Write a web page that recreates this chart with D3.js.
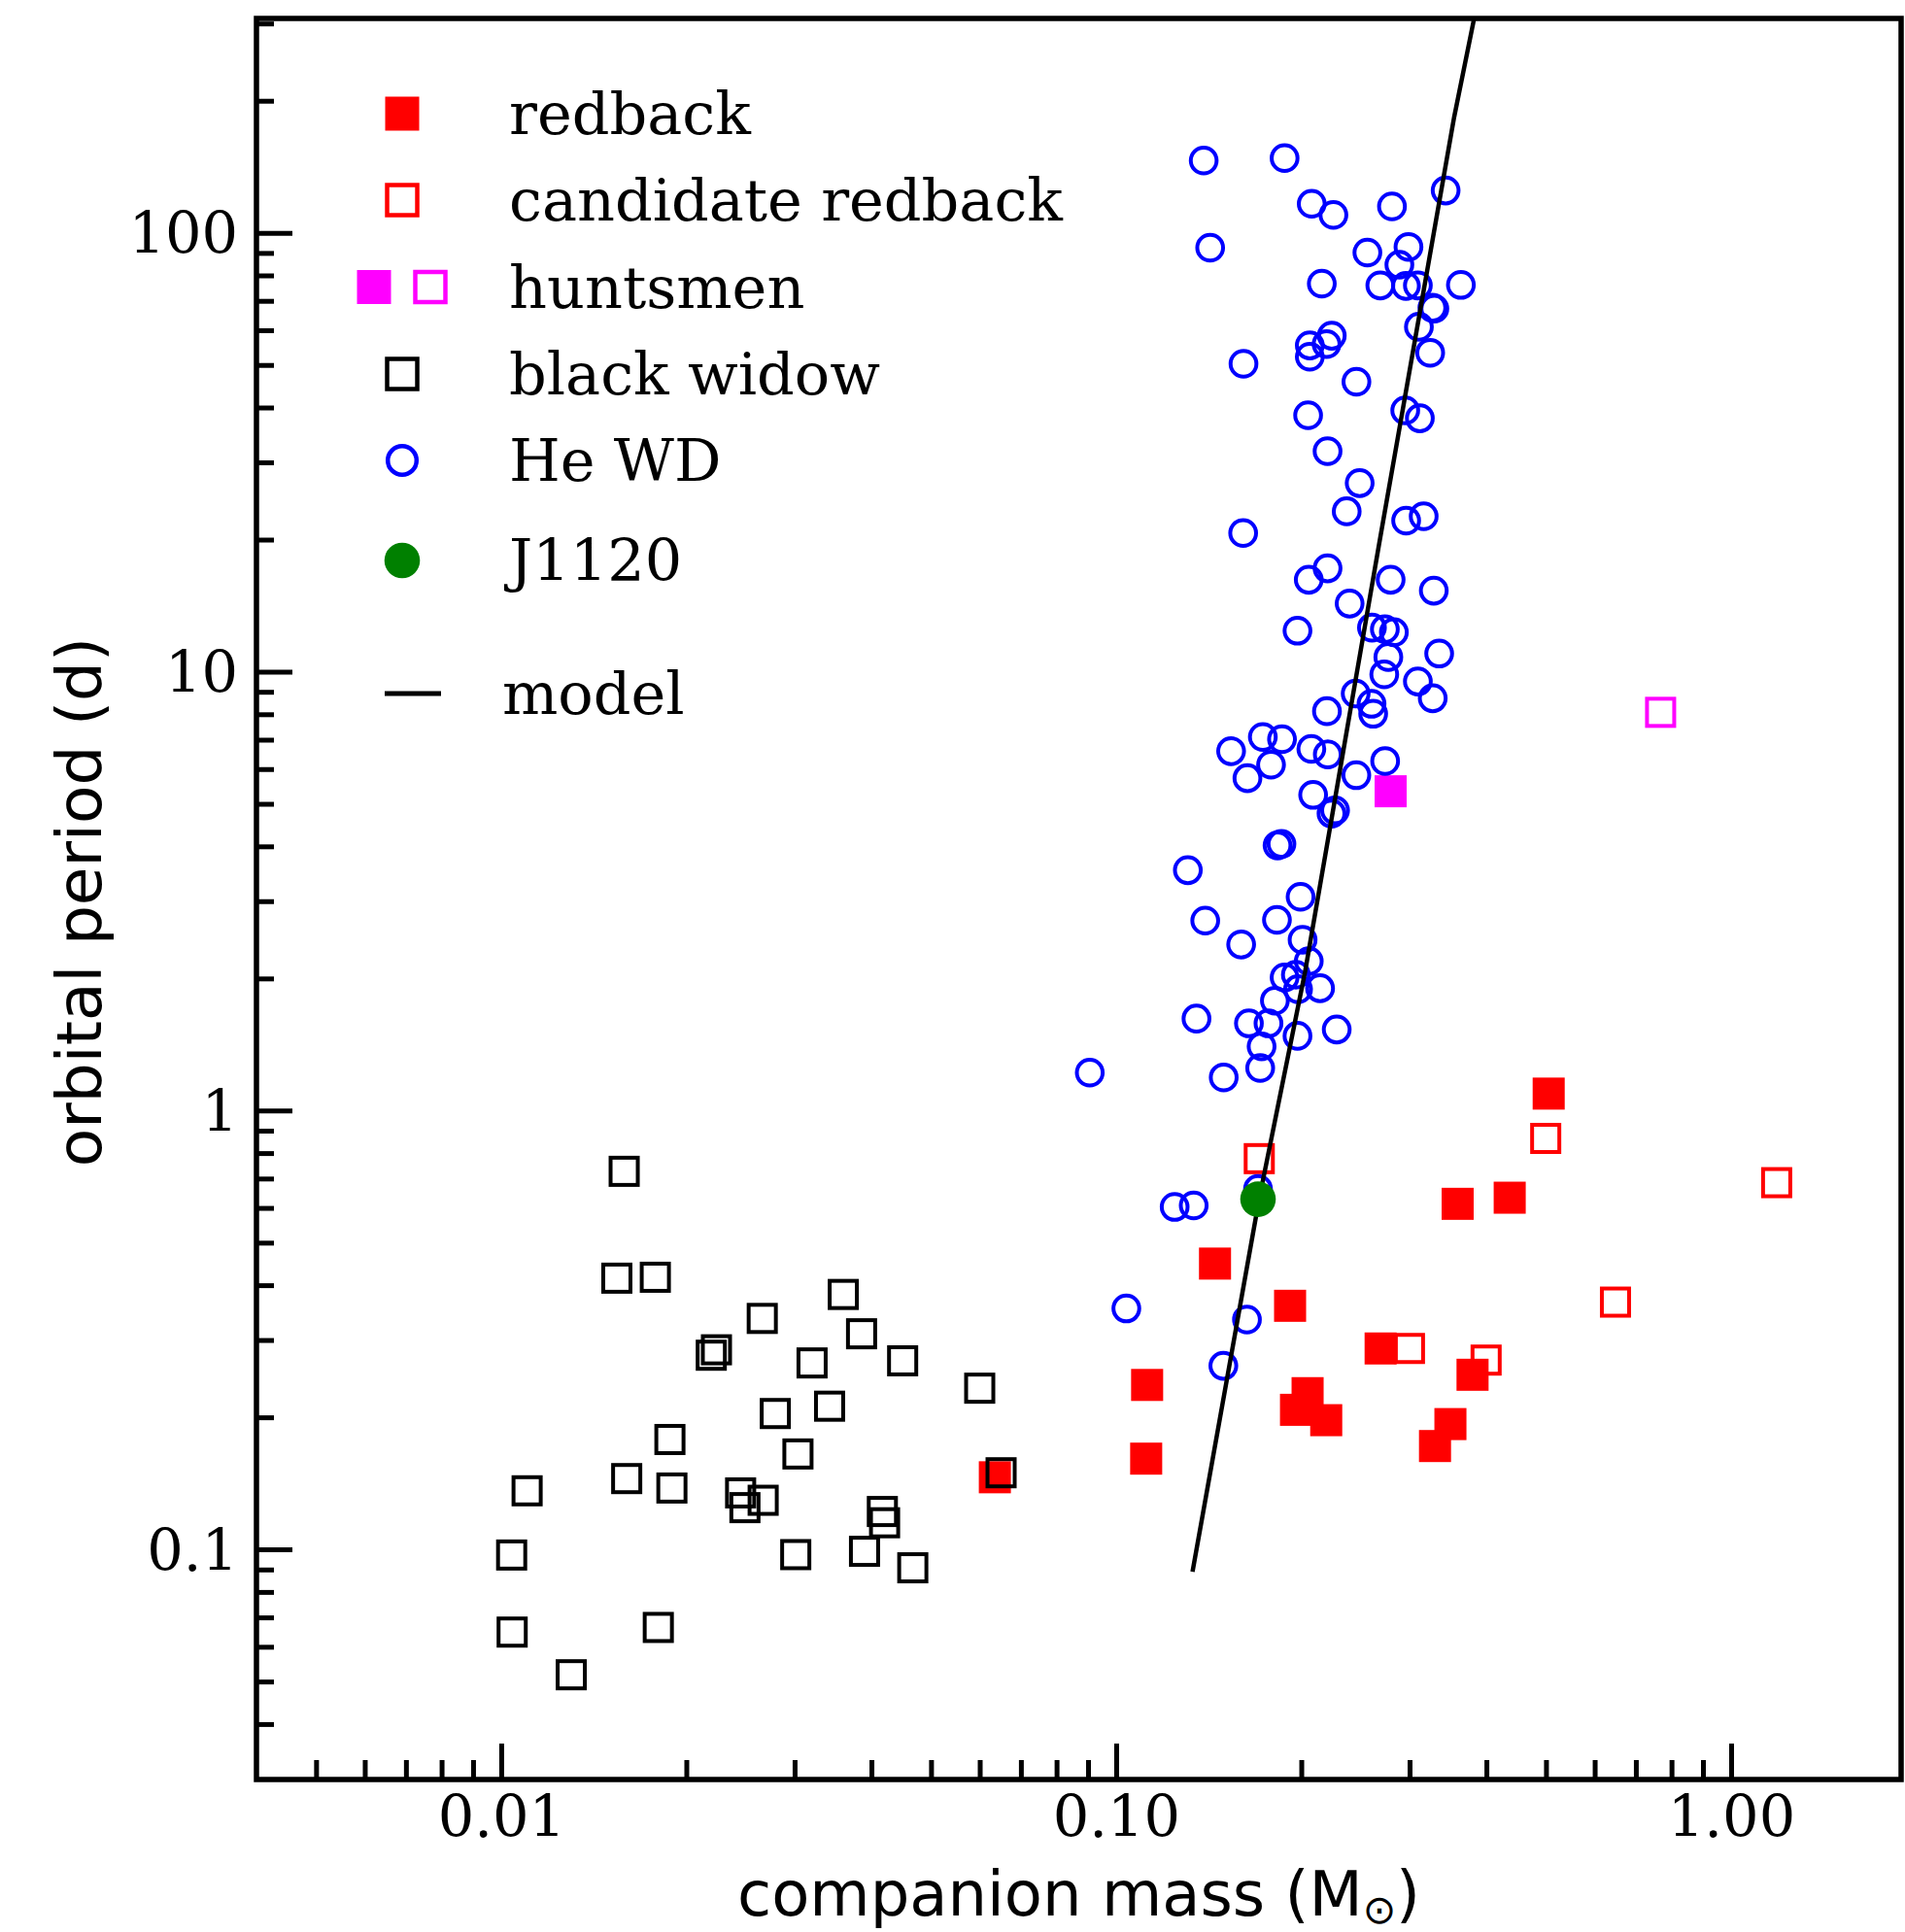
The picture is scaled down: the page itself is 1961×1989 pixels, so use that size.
<!DOCTYPE html>
<html><head><meta charset="utf-8">
<script src="https://cdn.jsdelivr.net/npm/d3@7"></script>
<style>body{margin:0;background:#fff}svg{display:block}</style>
</head><body><svg id="c" width="1961" height="1989"></svg>
<script>
// ---------------- data (companion mass [Msun], orbital period [d]) ----------------
const redback = [[0.3592,0.613],[0.4365,0.633],[0.1448,0.448],[0.1918,0.359],[0.2692,0.287],[0.3798,0.250],[0.1123,0.237],[0.2048,0.227],[0.1961,0.208],[0.2196,0.197],[0.3496,0.193],[0.3300,0.172],[0.1119,0.161],[0.5051,1.093],[0.0635,0.146]];
const candidateRedback = [[0.1709,0.777],[0.4995,0.864],[1.186,0.685],[0.6486,0.366],[0.2999,0.287],[0.3996,0.270]];
const huntsmenFilled = [[0.2795,5.34]];
const huntsmenOpen = [[0.768,8.08]];
const blackWidow = [[0.01585,0.727],[0.01542,0.415],[0.01781,0.417],[0.0360,0.381],[0.02658,0.336],[0.03855,0.310],[0.02239,0.285],[0.02196,0.277],[0.03203,0.266],[0.04496,0.269],[0.0600,0.233],[0.02791,0.204],[0.03420,0.212],[0.01881,0.178],[0.03038,0.165],[0.01102,0.136],[0.01600,0.145],[0.01895,0.138],[0.02451,0.1345],[0.02491,0.1245],[0.02667,0.1294],[0.04167,0.122],[0.04202,0.115],[0.0104,0.0971],[0.03013,0.0973],[0.03898,0.0990],[0.04670,0.0908],[0.01042,0.0648],[0.01801,0.0664],[0.01300,0.0518],[0.0650,0.1495]];
const heWD = [[0.1388,146.2],[0.1879,148.0],[0.2080,116.5],[0.2256,109.9],[0.2809,114.9],[0.3434,124.9],[0.1422,92.5],[0.2562,90.2],[0.2988,92.9],[0.2888,84.6],[0.2160,76.6],[0.2689,75.9],[0.2960,75.7],[0.3095,75.9],[0.3636,76.1],[0.3268,67.5],[0.3292,67.2],[0.3107,61.1],[0.3241,53.3],[0.2242,58.3],[0.2199,55.8],[0.2065,55.4],[0.2065,52.2],[0.1611,50.3],[0.2459,45.8],[0.2052,38.4],[0.2952,39.4],[0.3118,37.8],[0.2207,31.8],[0.2489,26.9],[0.2371,23.2],[0.2962,22.1],[0.3163,22.6],[0.1609,20.7],
[0.2207,17.2],[0.2057,16.2],[0.2795,16.2],[0.3285,15.3],[0.2397,14.3],[0.1972,12.4],[0.2606,12.6],[0.2735,12.5],[0.2829,12.3],[0.2771,10.8],[0.3352,11.0],[0.2729,9.86],[0.3095,9.50],[0.3272,8.70],[0.2452,8.92],[0.2602,8.45],[0.2618,8.02],[0.2202,8.13],[0.1732,7.10],[0.1861,7.02],[0.1538,6.59],[0.2077,6.67],[0.2209,6.48],[0.1786,6.14],[0.2738,6.26],[0.1635,5.72],[0.2458,5.81],[0.2091,5.24],[0.2240,4.75],[0.2270,4.83],[0.1830,4.02],[0.1857,4.05],[0.1308,3.53],[0.1995,3.07],[0.1396,2.71],[0.1826,2.72],[0.1597,2.39],[0.2010,2.45],[0.2057,2.19],[0.1879,2.01],[0.1960,2.04],[0.2146,1.90],
[0.1976,1.89],[0.1812,1.78],[0.1351,1.62],[0.1644,1.58],[0.1769,1.58],[0.2284,1.53],[0.1972,1.48],[0.1724,1.40],[0.1715,1.25],[0.1496,1.19],[0.0906,1.22],[0.1701,0.663],[0.1245,0.603],[0.1337,0.608],[0.1039,0.354],[0.1632,0.334],[0.1494,0.262]];
const j1120 = [[0.1701,0.628]];
const model = [[0.1331,0.0889],[0.1708,0.628],[0.2029,2.072],[0.2676,19.49],[0.3545,183.4],[0.3818,306.7],[0.391,360]];

const xMajorTicks = [0.01,0.1,1];
const xTickLabels = ["0.01","0.10","1.00"];
const xMinorTicks = [0.005,0.006,0.007,0.008,0.009,0.02,0.03,0.04,0.05,0.06,0.07,0.08,0.09,0.2,0.3,0.4,0.5,0.6,0.7,0.8,0.9];
const yMajorTicks = [0.1,1,10,100];
const yTickLabels = ["0.1","1","10","100"];
const yMinorTicks = [0.04,0.05,0.06,0.07,0.08,0.09,0.2,0.3,0.4,0.5,0.6,0.7,0.8,0.9,2,3,4,5,6,7,8,9,20,30,40,50,60,70,80,90,200,300];

const legendLabels = ["redback","candidate redback","huntsmen","black widow","He WD","J1120","model"];

// ---------------- layout ----------------
const L = 264, R = 1957, T = 19, B = 1832;
const svg = d3.select("#c");
svg.append("rect").attr("width",1961).attr("height",1989).attr("fill","#fff");
const x = d3.scaleLog().domain([0.004,1.89]).range([L,R]);
const y = d3.scaleLog().domain([0.0299,308]).range([B,T]);

svg.append("defs").append("clipPath").attr("id","clip")
  .append("rect").attr("x",L).attr("y",T).attr("width",R-L).attr("height",B-T);

const serif = "DejaVu Serif";
const sans = "DejaVu Sans";

// axes
function styleAxis(g){
  g.select(".domain").remove();
  g.selectAll(".tick line").attr("stroke","#000").attr("stroke-width",5);
}
svg.append("g").attr("transform",`translate(0,${B})`)
  .call(d3.axisBottom(x).tickValues(xMinorTicks).tickSize(-20).tickFormat(""))
  .call(styleAxis);
const xa = svg.append("g").attr("transform",`translate(0,${B})`)
  .call(d3.axisBottom(x).tickValues(xMajorTicks).tickSize(-37).tickPadding(17).tickFormat((d,i)=>xTickLabels[i]))
  .call(styleAxis);
xa.selectAll("text").attr("font-family",serif).attr("font-size",59).attr("fill","#000");

svg.append("g").attr("transform",`translate(${L},0)`)
  .call(d3.axisLeft(y).tickValues(yMinorTicks).tickSize(-18).tickFormat(""))
  .call(styleAxis);
const ya = svg.append("g").attr("transform",`translate(${L},0)`)
  .call(d3.axisLeft(y).tickValues(yMajorTicks).tickSize(-37).tickPadding(19).tickFormat((d,i)=>yTickLabels[i]))
  .call(styleAxis);
ya.selectAll("text").attr("font-family",serif).attr("font-size",59).attr("fill","#000").attr("dy","0.36em");

// data
const plot = svg.append("g").attr("clip-path","url(#clip)");
const SQ = 33, OS = 28, OSW = 4, CR = 13.3, CSW = 4;
function filledSquares(data,color){
  plot.append("g").selectAll("rect").data(data).join("rect")
    .attr("x",d=>x(d[0])-SQ/2).attr("y",d=>y(d[1])-SQ/2)
    .attr("width",SQ).attr("height",SQ).attr("fill",color);
}
function openSquares(data,color){
  plot.append("g").selectAll("rect").data(data).join("rect")
    .attr("x",d=>x(d[0])-OS/2).attr("y",d=>y(d[1])-OS/2)
    .attr("width",OS).attr("height",OS).attr("fill","none")
    .attr("stroke",color).attr("stroke-width",OSW);
}
openSquares(candidateRedback,"#ff0000");
filledSquares(redback,"#ff0000");
filledSquares(huntsmenFilled,"#ff00ff");
openSquares(huntsmenOpen,"#ff00ff");
openSquares(blackWidow,"#000");
plot.append("g").selectAll("circle").data(heWD).join("circle")
  .attr("cx",d=>x(d[0])).attr("cy",d=>y(d[1])).attr("r",CR)
  .attr("fill","none").attr("stroke","#0000ff").attr("stroke-width",CSW);
plot.append("path").datum(model)
  .attr("d",d3.line().x(d=>x(d[0])).y(d=>y(d[1])))
  .attr("fill","none").attr("stroke","#000").attr("stroke-width",4.5);
plot.append("g").selectAll("circle").data(j1120).join("circle")
  .attr("cx",d=>x(d[0])).attr("cy",d=>y(d[1])).attr("r",18.3).attr("fill","#008000");

// frame
svg.append("rect").attr("x",L).attr("y",T).attr("width",R-L).attr("height",B-T)
  .attr("fill","none").attr("stroke","#000").attr("stroke-width",5.5);

// axis titles
svg.append("text").attr("x",(L+R)/2).attr("y",1972).attr("text-anchor","middle")
  .attr("font-family",sans).attr("font-size",64).attr("fill","#000")
  .call(t=>{
    t.append("tspan").text("companion mass (M");
    t.append("tspan").attr("font-size",41).attr("dy",8).text("\u2299");
    t.append("tspan").attr("dy",-8).text(")");
  });
svg.append("text").attr("transform",`translate(104,${(T+B)/2 + 3}) rotate(-90)`)
  .attr("text-anchor","middle").attr("font-family",sans).attr("font-size",64.5).attr("fill","#000")
  .text("orbital period (d)");

// legend
const lg = svg.append("g");
const rowY = [117,206,295.5,385,474,577,714];
const mx = 414, tx = 524;
const LS = 35, LOS = 31, LOSW = 4.5;
lg.append("rect").attr("x",mx-LS/2).attr("y",rowY[0]-LS/2).attr("width",LS).attr("height",LS).attr("fill","#ff0000");
lg.append("rect").attr("x",mx-LOS/2).attr("y",rowY[1]-LOS/2).attr("width",LOS).attr("height",LOS).attr("fill","none").attr("stroke","#ff0000").attr("stroke-width",LOSW);
lg.append("rect").attr("x",385-LS/2).attr("y",rowY[2]-LS/2).attr("width",LS).attr("height",LS).attr("fill","#ff00ff");
lg.append("rect").attr("x",443-LOS/2).attr("y",rowY[2]-LOS/2).attr("width",LOS).attr("height",LOS).attr("fill","none").attr("stroke","#ff00ff").attr("stroke-width",LOSW);
lg.append("rect").attr("x",mx-LOS/2).attr("y",rowY[3]-LOS/2).attr("width",LOS).attr("height",LOS).attr("fill","none").attr("stroke","#000").attr("stroke-width",LOSW);
lg.append("circle").attr("cx",mx).attr("cy",rowY[4]).attr("r",14.8).attr("fill","none").attr("stroke","#0000ff").attr("stroke-width",4.5);
lg.append("circle").attr("cx",mx).attr("cy",rowY[5]).attr("r",18.3).attr("fill","#008000");
lg.append("line").attr("x1",396).attr("x2",454).attr("y1",rowY[6]).attr("y2",rowY[6]).attr("stroke","#000").attr("stroke-width",5);
lg.selectAll("text.l").data(legendLabels).join("text").attr("class","l")
  .attr("x",(d,i)=> i===6 ? 517 : tx).attr("y",(d,i)=>rowY[i]+21)
  .attr("font-family",serif).attr("font-size",60.5).attr("fill","#000").text(d=>d);
</script></body></html>
